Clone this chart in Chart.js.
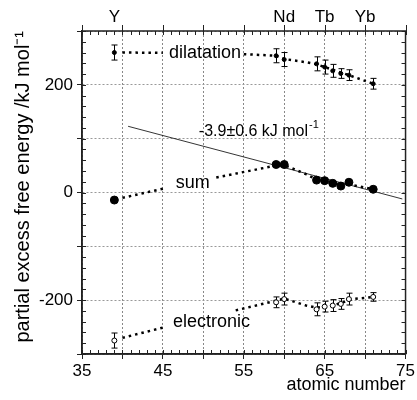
<!DOCTYPE html>
<html lang="en">
<head>
<meta charset="UTF-8">
<title>partial excess free energy</title>
<script src="https://cdn.jsdelivr.net/npm/chart.js"></script>
<style>
  html, body { margin: 0; padding: 0; background: #fff; }
  #wrap { width: 417px; height: 400px; }
</style>
</head>
<body>
<div id="wrap"><canvas id="myChart"></canvas></div>
<script>
const atomicNumbers = [39, 59, 60, 64, 65, 66, 67, 68, 71];
const dilatation    = [260, 254, 247, 239, 233, 226, 221, 218, 202];
const dilatationErr = [14, 13, 13, 13, 13, 12, 9, 10, 10];
const sumValues     = [-14, 52, 52, 23, 22, 17, 12, 19, 6];
const electronic    = [-275, -204, -198, -217, -212, -210, -207, -198, -194];
const electronicErr = [14, 10, 11, 12, 10, 11, 10, 11, 8];

// dotted guide curves (null = gap where the label sits)
const dilatationCurveX = [40, 45, 50, 55, 59, 60, 62.7, 64, 68, 71];
const dilatationCurveY = [260, 259.5, null, 257, 254, 248, 242, 238, 218, 202];
const sumCurveX = [40, 45, 48, 51.6, 59, 60, 62.7, 64, 66, 68, 71];
const sumCurveY = [-10, 7, null, 28, 50, 51, 34, 24, 17, 15, 6];
const electronicCurveX = [40, 45, 50, 54, 59, 60, 62.7, 64, 66, 68.5, 71];
const electronicCurveY = [-270, -251, null, -219, -201, -197, -210, -214, -210, -198, -194];

// linear fit through the heavy lanthanides
const fitX = [40.7, 74.6];
const fitY = [123, -12];

// element names on top
const elementNames = ['Y', 'Nd', 'Tb', 'Yb'];
const elementZ = [39, 60, 65, 70];

// curve names
const curveNames = ['dilatation', 'sum', 'electronic'];
const curveNameX = [50.2, 48.7, 51.0];
const curveNameY = [260, 17, -240];
const slopeText = '-3.9\u00b10.6 kJ mol';
const slopeX = 56.8, slopeY = 113;

const xTicksMin = 35, xTicksMax = 75;
const yTicksMin = -300, yTicksMax = 300;

const FONT = '"Liberation Sans", Arial, Helvetica, sans-serif';

function pts(xs, ys) {
    return xs.map((v, i) => ({x: v, y: ys[i]}));
}

const extras = {
    id: 'extras',
    beforeDatasetsDraw(chart) {
        const {ctx, scales: {x, y}} = chart;
        ctx.save();
        ctx.strokeStyle = '#000';
        ctx.lineWidth = 1;
        const bars = [[dilatation, dilatationErr], [electronic, electronicErr]];
        bars.forEach(([vals, errs]) => {
            atomicNumbers.forEach((z, i) => {
                const px = Math.round(x.getPixelForValue(z)) + 0.5;
                const y1 = y.getPixelForValue(vals[i] + errs[i]);
                const y2 = y.getPixelForValue(vals[i] - errs[i]);
                ctx.beginPath();
                ctx.moveTo(px, y1); ctx.lineTo(px, y2);
                ctx.moveTo(px - 3, y1); ctx.lineTo(px + 3, y1);
                ctx.moveTo(px - 3, y2); ctx.lineTo(px + 3, y2);
                ctx.stroke();
            });
        });
        ctx.restore();
    },
    afterDraw(chart) {
        const {ctx, chartArea: a, scales: {x, y}} = chart;
        ctx.save();
        // frame
        ctx.strokeStyle = '#222';
        ctx.lineWidth = 1.5;
        ctx.strokeRect(a.left, a.top, a.right - a.left, a.bottom - a.top);
        // minor ticks, inward
        ctx.lineWidth = 1;
        ctx.beginPath();
        for (let v = xTicksMin; v <= xTicksMax; v += 1) {
            const px = Math.round(x.getPixelForValue(v)) + 0.5;
            ctx.moveTo(px, a.bottom); ctx.lineTo(px, a.bottom - 4);
            ctx.moveTo(px, a.top); ctx.lineTo(px, a.top + 4);
        }
        for (let v = yTicksMin; v <= yTicksMax; v += 20) {
            const py = Math.round(y.getPixelForValue(v)) + 0.5;
            ctx.moveTo(a.left, py); ctx.lineTo(a.left + 4, py);
            ctx.moveTo(a.right, py); ctx.lineTo(a.right - 4, py);
        }
        // major ticks on top, outward
        for (let v = xTicksMin; v <= xTicksMax; v += 5) {
            const px = Math.round(x.getPixelForValue(v)) + 0.5;
            ctx.moveTo(px, a.top); ctx.lineTo(px, a.top - 6);
        }
        ctx.stroke();

        ctx.fillStyle = '#000';
        ctx.textAlign = 'center';
        ctx.textBaseline = 'middle';
        // element names
        ctx.font = '17px ' + FONT;
        elementNames.forEach((n, i) => {
            ctx.fillText(n, x.getPixelForValue(elementZ[i]), 17);
        });
        // curve names
        ctx.font = '18px ' + FONT;
        curveNames.forEach((n, i) => {
            const px = x.getPixelForValue(curveNameX[i]);
            const py = y.getPixelForValue(curveNameY[i]);
            ctx.fillText(n, px, py);
        });
        // slope label with superscript
        ctx.font = '16px ' + FONT;
        const w1 = ctx.measureText(slopeText).width;
        ctx.font = '11px ' + FONT;
        const w2 = ctx.measureText('-1').width;
        const sx = x.getPixelForValue(slopeX) - (w1 + w2) / 2;
        const sy = y.getPixelForValue(slopeY);
        ctx.textAlign = 'left';
        ctx.font = '16px ' + FONT;
        ctx.fillText(slopeText, sx, sy);
        ctx.font = '11px ' + FONT;
        ctx.fillText('-1', sx + w1 + 1, sy - 7);
        ctx.restore();
    }
};

const ctx = document.querySelector('#myChart');
const energyChart = new Chart(ctx, {
    type: 'scatter',
    data: {
        datasets: [{
            label: 'sum',
            data: pts(atomicNumbers, sumValues),
            pointRadius: 4,
            pointBackgroundColor: '#000',
            pointBorderColor: '#000'
        }, {
            label: 'dilatation',
            data: pts(atomicNumbers, dilatation),
            pointRadius: 2,
            pointBackgroundColor: '#000',
            pointBorderColor: '#000'
        }, {
            label: 'electronic',
            data: pts(atomicNumbers, electronic),
            pointRadius: 2.5,
            pointBorderWidth: 1,
            pointBackgroundColor: '#fff',
            pointBorderColor: '#000'
        }, {
            label: 'fit',
            data: pts(fitX, fitY),
            showLine: true,
            pointRadius: 0,
            borderColor: '#000',
            borderWidth: 0.8
        }, {
            label: 'dilatation curve',
            data: pts(dilatationCurveX, dilatationCurveY),
            showLine: true,
            spanGaps: false,
            pointRadius: 0,
            borderColor: '#000',
            borderWidth: 2.5,
            borderDash: [2.5, 4]
        }, {
            label: 'sum curve',
            data: pts(sumCurveX, sumCurveY),
            showLine: true,
            spanGaps: false,
            pointRadius: 0,
            borderColor: '#000',
            borderWidth: 2.5,
            borderDash: [2.5, 4]
        }, {
            label: 'electronic curve',
            data: pts(electronicCurveX, electronicCurveY),
            showLine: true,
            spanGaps: false,
            pointRadius: 0,
            borderColor: '#000',
            borderWidth: 2.5,
            borderDash: [2.5, 4]
        }]
    },
    options: {
        responsive: true,
        maintainAspectRatio: false,
        animation: false,
        layout: { padding: { top: 31, right: 9, left: 0, bottom: 0 } },
        plugins: { legend: { display: false }, tooltip: { enabled: false } },
        scales: {
            x: {
                type: 'linear',
                min: xTicksMin, max: xTicksMax,
                afterFit: s => { s.height = 46; },
                ticks: {
                    stepSize: 5,
                    padding: 2,
                    color: '#000',
                    font: { family: FONT, size: 17 },
                    callback: v => ((v - 35) % 10 === 0 ? v : '')
                },
                grid: { color: '#888', lineWidth: 1, tickLength: 5, tickColor: '#222' },
                border: { display: true, color: '#222', width: 1.5, dash: [2, 2] },
                title: {
                    display: true, text: 'atomic number', align: 'end',
                    color: '#000', font: { family: FONT, size: 18 },
                    padding: { top: 0, bottom: 4 }
                }
            },
            y: {
                type: 'linear',
                min: yTicksMin, max: yTicksMax,
                afterFit: s => { s.width = 82; },
                ticks: {
                    stepSize: 100,
                    padding: 4,
                    color: '#000',
                    font: { family: FONT, size: 17 },
                    callback: v => (v % 200 === 0 ? v : '')
                },
                grid: { color: '#999', lineWidth: 1, tickLength: 5, tickColor: '#222' },
                border: { display: true, color: '#222', width: 1.5, dash: [2, 2] },
                title: {
                    display: true, text: 'partial excess free energy /kJ mol\u207b\u00b9', align: 'end',
                    color: '#000', font: { family: FONT, size: 20 },
                    padding: { top: 11, bottom: 0 }
                }
            }
        }
    },
    plugins: [extras]
});
</script>
</body>
</html>
